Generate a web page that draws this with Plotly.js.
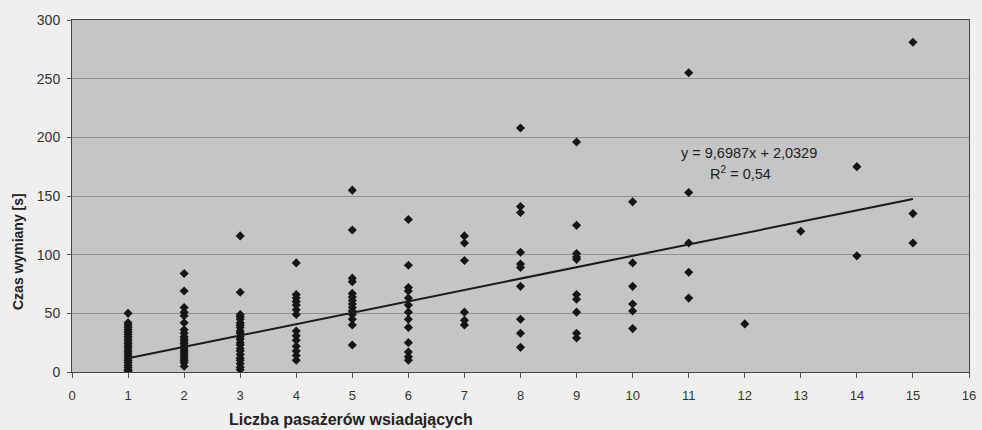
<!DOCTYPE html>
<html>
<head>
<meta charset="utf-8">
<script src="https://cdn.plot.ly/plotly-3.0.1.min.js"></script>
<style>html,body{margin:0;padding:0;background:#efefef;}#chart{width:982px;height:430px;}</style>
</head>
<body>
<div id="chart"></div>
<script>
// Passengers boarding (x) and exchange time in seconds (y), grouped by x
const boarding = [1, 2, 3, 4, 5, 6, 7, 8, 9, 10, 11, 12, 13, 14, 15];
const times1 = [50, 42, 40, 38, 36, 34, 32, 30, 28, 26, 24, 22, 20, 18, 16, 14, 12, 10, 8, 6, 4, 2, 1, 0];
const times2 = [84, 69, 55, 51, 48, 42, 36, 33, 30, 28, 26, 24, 22, 20, 18, 16, 14, 12, 10, 8, 5];
const times3 = [116, 68, 49, 47, 45, 42, 40, 38, 35, 33, 30, 28, 25, 23, 20, 18, 15, 12, 10, 7, 4, 2];
const times4 = [93, 66, 63, 60, 57, 53, 49, 35, 31, 27, 22, 18, 14, 10];
const times5 = [155, 121, 80, 77, 67, 64, 61, 58, 55, 52, 49, 45, 40, 23];
const times6 = [130, 91, 72, 69, 63, 57, 51, 45, 38, 25, 17, 13, 10];
const times7 = [116, 110, 95, 51, 44, 40];
const times8 = [208, 141, 136, 102, 92, 89, 73, 45, 33, 21];
const times9 = [196, 125, 101, 98, 96, 66, 62, 51, 33, 29];
const times10 = [145, 93, 73, 58, 52, 37];
const times11 = [255, 153, 110, 85, 63];
const times12 = [41];
const times13 = [120];
const times14 = [175, 99];
const times15 = [281, 135, 110];
const timeGroups = [times1, times2, times3, times4, times5, times6, times7, times8, times9, times10, times11, times12, times13, times14, times15];

// Linear trend reported on the chart
const slope = 9.6987;
const intercept = 2.0329;
const rSquared = 0.54;
const trendX = [1, 15];

const xTicks = [0,1,2,3,4,5,6,7,8,9,10,11,12,13,14,15,16];
const yTicks = [0,50,100,150,200,250,300];

const xTitle = 'Liczba pasażerów wsiadających';
const yTitle = 'Czas wymiany [s]';

const px = [], py = [];
boarding.forEach((b, i) => timeGroups[i].forEach(t => { px.push(b); py.push(t); }));
const trendY = trendX.map(x => slope * x + intercept);

const fmt = (v, d) => v.toFixed(d).replace('.', ',');

const font = 'Liberation Sans, Arial, sans-serif';
const data = [
  {x: px, y: py, type: 'scatter', mode: 'markers',
   marker: {symbol: 'diamond', size: 7, color: '#151515'}, hoverinfo: 'x+y'},
  {x: trendX, y: trendY, type: 'scatter', mode: 'lines',
   line: {color: '#1a1a1a', width: 2}}
];

const layout = {
  width: 982, height: 430,
  margin: {l: 72, r: 13, t: 20, b: 58},
  paper_bgcolor: '#efefef',
  plot_bgcolor: '#c5c5c5',
  showlegend: false,
  font: {family: font, size: 13, color: '#333'},
  xaxis: {
    range: [0, 16], tickvals: xTicks, ticktext: xTicks.map(String),
    showgrid: false, zeroline: false,
    showline: true, linecolor: '#444', linewidth: 1, mirror: true,
    ticks: 'outside', ticklen: 5, tickcolor: '#555',
    ticklabelstandoff: 6,
    tickfont: {family: font, size: 13, color: '#333'}
  },
  yaxis: {
    range: [0, 300], tickvals: yTicks, ticktext: yTicks.map(String),
    showgrid: true, gridcolor: '#929292', gridwidth: 1,
    zeroline: false,
    showline: true, linecolor: '#444', linewidth: 1, mirror: true,
    ticks: 'outside', ticklen: 4, tickcolor: '#555',
    ticklabelstandoff: 4,
    tickfont: {family: font, size: 14, color: '#333'}
  },
  annotations: [
    {xref: 'x', yref: 'y', x: 12.08, y: 186.5, showarrow: false,
     text: 'y = ' + fmt(slope, 4) + 'x + ' + fmt(intercept, 4),
     font: {family: font, size: 14.5, color: '#222'}},
    {xref: 'x', yref: 'y', x: 11.93, y: 170, showarrow: false,
     text: 'R<sup>2</sup> = ' + fmt(rSquared, 2),
     font: {family: font, size: 14.5, color: '#222'}},
    {xref: 'paper', yref: 'paper', x: (351 - 72) / 897, y: (372 - 420) / 352,
     xanchor: 'center', yanchor: 'middle',
     showarrow: false, text: '<b>' + xTitle + '</b>',
     font: {family: font, size: 16, color: '#222'}},
    {xref: 'paper', yref: 'paper', x: (18 - 72) / 897, y: (372 - 252) / 352,
     xanchor: 'center', yanchor: 'middle', textangle: -90,
     showarrow: false, text: '<b>' + yTitle + '</b>',
     font: {family: font, size: 14, color: '#222'}}
  ]
};

Plotly.newPlot('chart', data, layout, {staticPlot: true});
</script>
</body>
</html>
